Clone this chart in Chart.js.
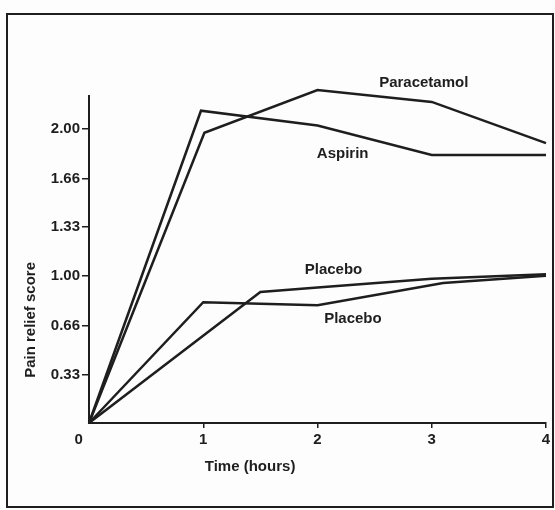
<!DOCTYPE html>
<html>
<head>
<meta charset="utf-8">
<script src="https://cdn.jsdelivr.net/npm/chart.js@4.4.1/dist/chart.umd.min.js"></script>
<style>
  body { margin: 0; background: #fdfdfd; }
  #wrap { width: 555px; height: 510px; }
</style>
</head>
<body>
<div id="wrap"><canvas id="grafic" width="555" height="510"></canvas></div>
<script>
// dades llegides del gràfic (temps en hores, puntuació d'alleujament)
const aspirinTime = [0, 0.98, 2, 3, 4];
const aspirinScore = [0, 2.12, 2.02, 1.82, 1.82];
const paracetamolTime = [0, 1.01, 2, 3, 4];
const paracetamolScore = [0, 1.97, 2.26, 2.18, 1.90];
const placeboATime = [0, 1, 2, 3.1, 4];
const placeboAScore = [0, 0.82, 0.80, 0.95, 1.00];
const placeboBTime = [0, 1.5, 2, 3, 4];
const placeboBScore = [0, 0.89, 0.92, 0.98, 1.01];

const yTickValues = [0, 0.33, 0.66, 1.00, 1.33, 1.66, 2.00];
const xTickValues = [0, 1, 2, 3, 4];

// etiquetes dins del gràfic
const labelText = ['Paracetamol', 'Aspirin', 'Placebo', 'Placebo'];
const labelTime = [2.93, 2.22, 2.14, 2.31];
const labelScore = [2.31, 1.83, 1.04, 0.71];

const INK = '#1e1e1e';
const FONT = "bold 15px 'Liberation Sans', Arial, sans-serif";

function punts(xs, ys) {
    return xs.map((x, i) => ({ x: x, y: ys[i] }));
}

function serie(xs, ys) {
    return {
        data: punts(xs, ys),
        borderColor: INK,
        borderWidth: 2.5,
        pointRadius: 0,
        tension: 0,
        clip: false
    };
}

// marc, títols dels eixos i noms de les sèries
const textPlugin = {
    id: 'textos',
    beforeDraw(chart) {
        const c = chart.ctx;
        c.save();
        c.fillStyle = '#fdfdfd';
        c.fillRect(0, 0, chart.width, chart.height);
        c.strokeStyle = INK;
        c.lineWidth = 2;
        c.strokeRect(7, 14, 546, 493);
        c.restore();
    },
    afterDatasetsDraw(chart) {
        const c = chart.ctx;
        const sx = chart.scales.x, sy = chart.scales.y;
        c.save();
        c.font = FONT;
        c.fillStyle = INK;
        c.textAlign = 'center';
        c.textBaseline = 'middle';
        labelText.forEach((t, i) => {
            c.fillText(t, sx.getPixelForValue(labelTime[i]), sy.getPixelForValue(labelScore[i]));
        });
        // títol eix X
        c.fillText('Time (hours)', sx.getPixelForValue(1.41), 467);
        // títol eix Y
        c.translate(31, sy.getPixelForValue(0.7));
        c.rotate(-Math.PI / 2);
        c.fillText('Pain relief score', 0, 0);
        c.restore();
    }
};

new Chart(document.getElementById('grafic'), {
    type: 'line',
    data: {
        datasets: [
            serie(aspirinTime, aspirinScore),
            serie(paracetamolTime, paracetamolScore),
            serie(placeboATime, placeboAScore),
            serie(placeboBTime, placeboBScore)
        ]
    },
    options: {
        responsive: false,
        animation: false,
        layout: { padding: { top: 96, right: 9, left: 0, bottom: 0 } },
        plugins: { legend: { display: false }, tooltip: { enabled: false } },
        scales: {
            x: {
                type: 'linear',
                min: 0,
                max: 4,
                afterFit(s) { s.height = 87; },
                afterBuildTicks(s) { s.ticks = xTickValues.map(v => ({ value: v })); },
                border: { display: true, color: INK, width: 2 },
                grid: {
                    drawOnChartArea: false,
                    drawTicks: true,
                    tickLength: 5,
                    lineWidth: 1.5,
                    tickColor: ctx => (ctx.tick && ctx.tick.value === 0) ? 'rgba(0,0,0,0)' : INK
                },
                ticks: {
                    color: INK,
                    font: { family: "'Liberation Sans', Arial, sans-serif", size: 15, weight: 'bold' },
                    padding: 3,
                    maxRotation: 0,
                    callback: v => v === 0 ? '0     ' : String(v)
                }
            },
            y: {
                type: 'linear',
                min: 0,
                max: 2.22,
                afterFit(s) { s.width = 89; },
                afterBuildTicks(s) { s.ticks = yTickValues.map(v => ({ value: v })); },
                border: { display: true, color: INK, width: 2 },
                grid: {
                    drawOnChartArea: false,
                    drawTicks: true,
                    tickLength: 7,
                    lineWidth: 1.5,
                    tickColor: ctx => (ctx.tick && ctx.tick.value === 0) ? 'rgba(0,0,0,0)' : INK
                },
                ticks: {
                    color: INK,
                    font: { family: "'Liberation Sans', Arial, sans-serif", size: 15, weight: 'bold' },
                    padding: 2,
                    callback: v => v === 0 ? '' : v.toFixed(2)
                }
            }
        }
    },
    plugins: [textPlugin]
});
</script>
</body>
</html>
